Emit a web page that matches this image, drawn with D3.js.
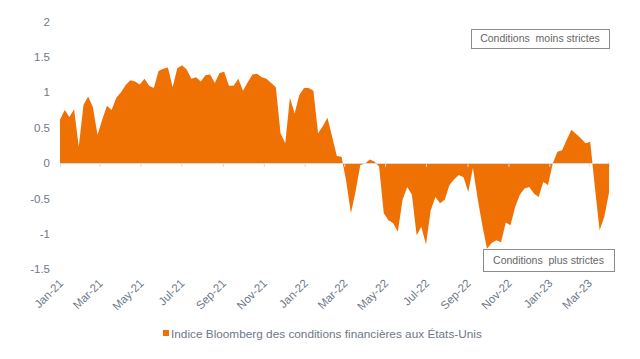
<!DOCTYPE html>
<html>
<head>
<meta charset="utf-8">
<script src="https://cdn.jsdelivr.net/npm/d3@7"></script>
<style>
  html, body { margin: 0; padding: 0; background: #ffffff; }
  svg { display: block; font-family: "Liberation Sans", Arial, sans-serif; }
</style>
</head>
<body>
<svg id="chart" width="640" height="359"></svg>
<script>
// Weekly observations starting 1 Jan 2021
const startDate = "2021-01-01";
const values = [
  0.61, 0.75, 0.65, 0.76, 0.23, 0.82, 0.94, 0.79, 0.40, 0.61,
  0.81, 0.75, 0.92, 1.00, 1.10, 1.17, 1.15, 1.11, 1.19, 1.09,
  1.06, 1.30, 1.33, 1.35, 1.07, 1.34, 1.38, 1.32, 1.19, 1.21,
  1.15, 1.24, 1.25, 1.13, 1.27, 1.29, 1.09, 1.09, 1.19, 1.02,
  1.14, 1.25, 1.26, 1.21, 1.19, 1.13, 1.07, 0.42, 0.28, 0.92,
  0.70, 0.96, 1.06, 1.06, 1.02, 0.42, 0.52, 0.64, 0.37, 0.10,
  0.09, -0.26, -0.71, -0.40, -0.03, -0.01, 0.05, 0.02, -0.05, -0.71,
  -0.81, -0.85, -0.97, -0.52, -0.34, -0.45, -1.02, -0.90, -1.15, -0.67,
  -0.48, -0.57, -0.52, -0.31, -0.23, -0.17, -0.20, -0.41, -0.07, -0.50,
  -0.88, -1.21, -1.13, -1.09, -1.12, -0.84, -0.88, -0.62, -0.45, -0.36,
  -0.34, -0.43, -0.48, -0.27, -0.31, -0.01, 0.16, 0.18, 0.33, 0.47,
  0.41, 0.35, 0.28, 0.30, -0.35, -0.95, -0.76, -0.42
];
const yTicks = [-1.5, -1, -0.5, 0, 0.5, 1, 1.5, 2];
const xTickLabels = ["Jan-21","Mar-21","May-21","Jul-21","Sep-21","Nov-21","Jan-22","Mar-22","May-22","Jul-22","Sep-22","Nov-22","Jan-23","Mar-23"];
const seriesName = "Indice Bloomberg des conditions financières aux États-Unis";
const noteUpper = "Conditions  moins strictes";
const noteLower = "Conditions  plus strictes";

const parse = d3.utcParse("%Y-%m-%d");
const t0 = parse(startDate);
const data = values.map((v, i) => ({ date: d3.utcDay.offset(t0, i * 7), value: v }));
const tickDates = xTickLabels.map(s => d3.utcParse("%b-%y")(s));

const svg = d3.select("#chart");
const orange = "#EF7103";
const textGray = "#6E7887";

const x = d3.scaleUtc()
  .domain([t0, data[data.length - 1].date])
  .range([60, 609]);
const y = d3.scaleLinear().domain([-1.5, 2]).range([269.2, 21.4]);

// Area
const area = d3.area()
  .x(d => x(d.date))
  .y0(y(0))
  .y1(d => y(d.value));
svg.append("path").datum(data)
  .attr("d", area)
  .attr("fill", orange);

// X axis at zero
const xAxis = d3.axisBottom(x).tickValues(tickDates).tickSize(4).tickFormat("");
const gx = svg.append("g").attr("transform", `translate(0,${y(0)})`).call(xAxis);
gx.select(".domain").attr("stroke", "#DADADA").attr("stroke-width", 1);
gx.selectAll(".tick line").attr("stroke", "#DADADA");

// X labels rotated at bottom
svg.append("g").selectAll("text")
  .data(tickDates)
  .join("text")
  .attr("transform", d => `translate(${x(d) + 4},${284}) rotate(-45)`)
  .attr("text-anchor", "end")
  .attr("font-size", 11.5)
  .attr("fill", textGray)
  .text((d, i) => xTickLabels[i]);

// Y axis labels
const yAxis = d3.axisLeft(y).tickValues(yTicks).tickSize(0).tickPadding(0)
  .tickFormat(d => String(d));
const gy = svg.append("g").attr("transform", "translate(50,0)").call(yAxis);
gy.select(".domain").remove();
gy.selectAll("text").attr("font-size", 11.5).attr("fill", textGray)
  .attr("font-family", "Liberation Sans, Arial, sans-serif");

// Annotation boxes
function note(xc, yc, w, h, txt) {
  const g = svg.append("g");
  g.append("rect").attr("x", xc - w / 2 + 0.5).attr("y", yc - h / 2 + 0.5)
    .attr("width", w).attr("height", h)
    .attr("fill", "#ffffff").attr("stroke", "#8C8C8C").attr("stroke-width", 1);
  g.append("text").attr("x", xc).attr("y", yc + 3.8)
    .attr("text-anchor", "middle").attr("font-size", 10.5)
    .attr("fill", "#666666").style("white-space", "pre")
    .text(txt);
}
note(540, 38.5, 138, 19, noteUpper);
note(548.5, 260, 131, 22, noteLower);

// Legend
svg.append("rect").attr("x", 163).attr("y", 330).attr("width", 6).attr("height", 6).attr("fill", orange);
svg.append("text").attr("x", 171).attr("y", 338).attr("font-size", 11.8)
  .attr("fill", textGray).text(seriesName);
</script>
</body>
</html>
